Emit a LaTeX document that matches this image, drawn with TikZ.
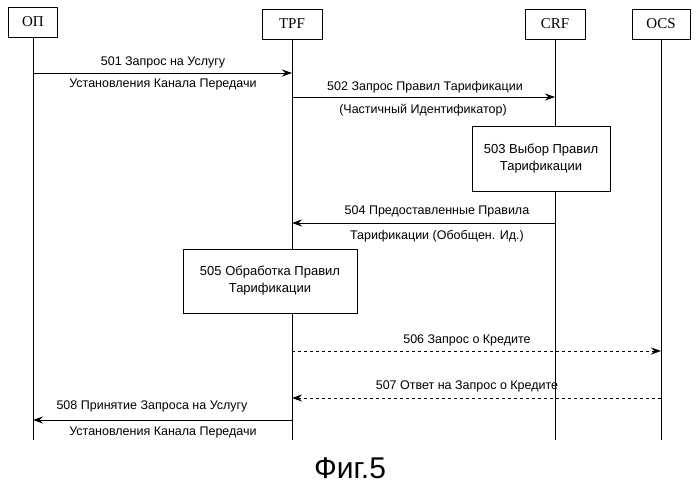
\documentclass[tikz,border=0pt]{standalone}
\usepackage{fontspec}
\setmainfont{Liberation Serif}
\setsansfont{Liberation Sans}
\usetikzlibrary{arrows.meta}
\begin{document}
\begin{tikzpicture}[x=1pt,y=-1pt,
  actor/.style={draw,line width=0.9pt,fill=white,minimum height=30pt,inner sep=3pt,font=\fontsize{15}{17}\selectfont},
  proc/.style={draw,line width=0.9pt,fill=white,align=center,font=\sffamily\fontsize{13}{17}\selectfont},
  msg/.style={-{Stealth[length=10pt,width=7pt]},line width=0.9pt},
  dmsg/.style={msg,dashed},
  lbl/.style={font=\sffamily\fontsize{12.5}{14}\selectfont,inner sep=1pt}]
\useasboundingbox (0,0) rectangle (700,493);
\coordinate (opS) at (33,36);
\coordinate (tpfS) at (292,40);
\coordinate (crfS) at (555,40);
\coordinate (ocsS) at (661,40);
\coordinate (opE) at (33,440);
\coordinate (tpfE) at (292,440);
\coordinate (crfE) at (555,440);
\coordinate (ocsE) at (661,440);
\foreach \a in {op,tpf,crf,ocs} \draw[line width=0.7pt] (\a S) -- (\a E);
\node[actor,minimum width=49pt] (op) at (33,22) {ОП};
\node[actor,minimum width=60pt] (tpf) at (292,24) {TPF};
\node[actor,minimum width=60pt] (crf) at (555,24) {CRF};
\node[actor,minimum width=58pt] (ocs) at (661,24) {OCS};
\coordinate (m1a) at (33,73); \coordinate (m1b) at (292,73);
\draw[msg] (m1a) -- (m1b);
\node[lbl] (l1a) at (163,62) {501 Запрос на Услугу};
\node[lbl] (l1b) at (163,84) {Установления Канала Передачи};
\coordinate (m2a) at (292,97); \coordinate (m2b) at (555,97);
\draw[msg] (m2a) -- (m2b);
\node[lbl] (l2a) at (425,87) {502 Запрос Правил Тарификации};
\node[lbl] (l2b) at (423,110) {(Частичный Идентификатор)};
\node[proc,minimum width=138pt,minimum height=65pt] (p503) at (541,159) {503 Выбор Правил\\Тарификации};
\coordinate (m4a) at (555,223); \coordinate (m4b) at (292,223);
\draw[msg] (m4a) -- (m4b);
\node[lbl] (l4a) at (437,211) {504 Предоставленные Правила};
\node[lbl] (l4b) at (437,236) {Тарификации (Обобщен. Ид.)};
\node[proc,minimum width=174pt,minimum height=64pt] (p505) at (270,281) {505 Обработка Правил\\Тарификации};
\coordinate (m6a) at (292,351); \coordinate (m6b) at (661,351);
\draw[dmsg] (m6a) -- (m6b);
\node[lbl] (l6) at (467,340) {506 Запрос о Кредите};
\coordinate (m7a) at (661,398); \coordinate (m7b) at (292,398);
\draw[dmsg] (m7a) -- (m7b);
\node[lbl] (l7) at (467,386) {507 Ответ на Запрос о Кредите};
\coordinate (m8a) at (292,420); \coordinate (m8b) at (33,420);
\draw[msg] (m8a) -- (m8b);
\node[lbl] (l8a) at (152,406) {508 Принятие Запроса на Услугу};
\node[lbl] (l8b) at (163,432) {Установления Канала Передачи};
\node[font=\sffamily\fontsize{30}{34}\selectfont] (cap) at (350,468) {Фиг.5};
\end{tikzpicture}
\end{document}
